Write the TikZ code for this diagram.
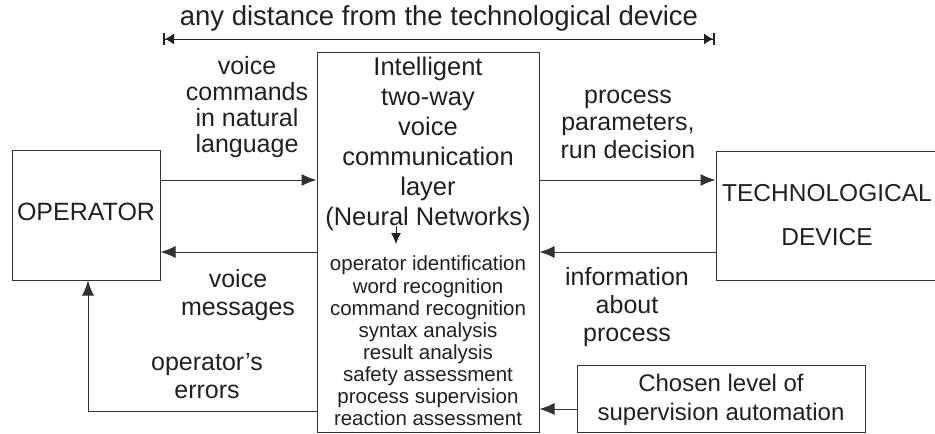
\documentclass[tikz,border=0pt]{standalone}
\usepackage{fontspec}
\setmainfont{Liberation Sans}
\usetikzlibrary{arrows.meta}
\definecolor{ink}{RGB}{35,31,32}
\definecolor{wire}{RGB}{50,50,50}
\tikzset{
  box/.style={draw=wire, line width=1pt, inner sep=0pt},
  lbl/.style={text=ink, align=center, inner sep=0pt, font=\fontsize{25}{27}\selectfont},
  small/.style={text=ink, align=center, inner sep=0pt, font=\fontsize{20.5}{22.1}\selectfont},
  flow/.style={draw=wire, line width=1pt, -{Latex[length=15pt,width=12pt]}},
  tiny/.style={draw=ink, line width=1pt, -{Latex[length=11pt,width=10pt]}},
  span/.style={draw=ink, line width=1pt,
    {Bar[width=12pt,line width=2pt,sep=0pt]Latex[length=9pt,width=11pt,sep=0pt]}-{Latex[length=9pt,width=11pt,sep=0pt]Bar[width=12pt,line width=2pt,sep=0pt]}}
}
\begin{document}
\begin{tikzpicture}[x=1pt,y=-1pt]
\useasboundingbox (0,0) rectangle (935,434);

% blocks
\node[box, minimum width=148pt, minimum height=130pt] (op) at (86,215) {};
\node[lbl] (optxt) at (86,212) {OPERATOR};
\node[box, minimum width=222pt, minimum height=380pt] (layer) at (428,242) {};
\node[box, minimum width=224pt, minimum height=129pt] (dev) at (828,215.5) {};
\node[box, minimum width=288pt, minimum height=67pt] (lvl) at (721,398.5) {};

% texts inside the blocks
\node[lbl, font=\fontsize{24.5}{44}\selectfont] (devtxt) at (827,215) {TECHNOLOGICAL\\DEVICE};
\node[lbl, font=\fontsize{24}{29.5}\selectfont] (lvltxt) at (721,400) {Chosen level of\\supervision automation};
\node[lbl, font=\fontsize{25.5}{30}\selectfont] (head) at (428,144) {Intelligent\\two-way\\voice\\communication\\layer\\(Neural Networks)};
\node[small] (tasks) at (428,341) {operator identification\\word recognition\\command recognition\\syntax analysis\\result analysis\\safety assessment\\process supervision\\reaction assessment};
\coordinate (dtop) at (396,226);
\coordinate (dbot) at (396,244);
\draw[tiny] (dtop) -- (dbot);

% distance marker
\node[lbl, font=\fontsize{27.5}{30}\selectfont] (dist) at (439,18) {any distance from the technological device};
\coordinate (dl) at (163,39);
\coordinate (dr) at (715,39);
\draw[span] (dl) -- (dr);

% rows of the connectors
\coordinate (rowA) at (0,180);
\coordinate (rowB) at (0,252);
\coordinate (rowC) at (0,409);
\coordinate (rowD) at (0,411);
\coordinate (colE) at (88,0);

\draw[flow] (op.east |- rowA) -- (layer.west |- rowA);
\draw[flow] (layer.west |- rowB) -- (op.east |- rowB);
\draw[flow] (layer.east |- rowA) -- (dev.west |- rowA);
\draw[flow] (dev.west |- rowB) -- (layer.east |- rowB);
\draw[flow] (lvl.west |- rowC) -- (layer.east |- rowC);
\draw[flow] (layer.west |- rowD) -| (op.south -| colE);

% connector labels
\node[lbl, font=\fontsize{25}{26}\selectfont] (cmd) at (247,107) {voice\\commands\\in natural\\language};
\node[lbl, font=\fontsize{25}{28}\selectfont] (msg) at (238,295) {voice\\messages};
\node[lbl, font=\fontsize{25}{27.5}\selectfont] (err) at (207,376) {operator’s\\errors};
\node[lbl, font=\fontsize{25}{27.5}\selectfont] (par) at (628,124) {process\\parameters,\\run decision};
\node[lbl, font=\fontsize{25}{28}\selectfont] (inf) at (627,307) {information\\about\\process};
\end{tikzpicture}
\end{document}
